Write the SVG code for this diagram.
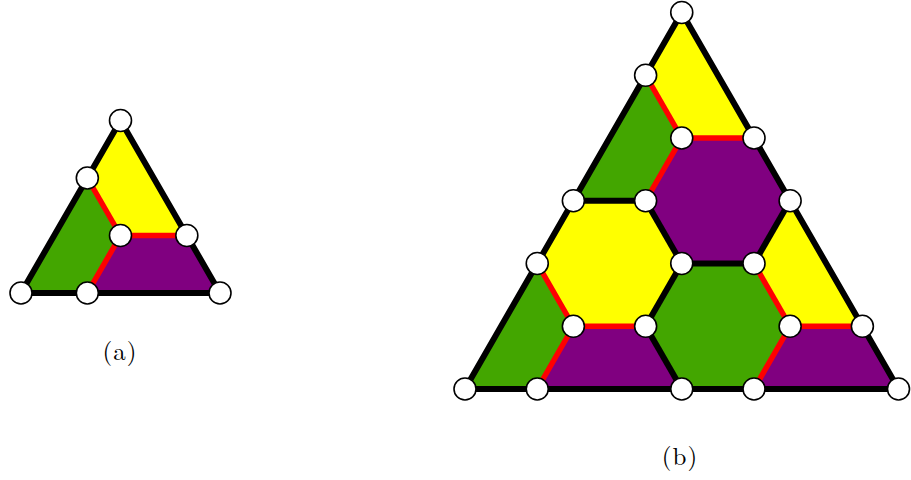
<svg xmlns="http://www.w3.org/2000/svg" width="911" height="480" viewBox="0 0 911 480">
<style>
.y{fill:#ffff00}
.g{fill:#43a600}
.p{fill:#800080}
.outer{fill:none;stroke:#000;stroke-width:6;stroke-linejoin:miter}
.bk{stroke:#000;stroke-width:6;stroke-linecap:butt}
.rd{stroke:#ff0000;stroke-width:5.5;stroke-linecap:butt}
.nd{fill:#fff;stroke:#000;stroke-width:1.6}
.lbl{font-family:"Latin Modern Roman","Liberation Serif",serif;font-size:25px;fill:#000;text-anchor:middle;letter-spacing:1px}
</style>
<rect width="911" height="480" fill="#fff"/>
<g id="faces-a">
<polygon class="y" points="120.5,120.5 186.83,235.5 120.5,235.5 87.33,178"/>
<polygon class="g" points="87.33,178 120.5,235.5 87.33,293 21,293"/>
<polygon class="p" points="120.5,235.5 186.83,235.5 220,293 87.33,293"/>
</g>
<g id="faces-b">
<polygon class="y" points="681.75,12.5 754,138 681.75,138 645.625,75.25"/>
<polygon class="g" points="645.625,75.25 681.75,138 645.625,200.75 573.375,200.75"/>
<polygon class="p" points="681.75,138 754,138 790.125,200.75 754,263.5 681.75,263.5 645.625,200.75"/>
<polygon class="y" points="573.375,200.75 645.625,200.75 681.75,263.5 645.625,326.25 573.375,326.25 537.25,263.5"/>
<polygon class="y" points="790.125,200.75 862.375,326.25 790.125,326.25 754,263.5"/>
<polygon class="g" points="681.75,263.5 754,263.5 790.125,326.25 754,389 681.75,389 645.625,326.25"/>
<polygon class="g" points="537.25,263.5 573.375,326.25 537.25,389 465,389"/>
<polygon class="p" points="573.375,326.25 645.625,326.25 681.75,389 537.25,389"/>
<polygon class="p" points="790.125,326.25 862.375,326.25 898.5,389 754,389"/>
</g>
<g id="connectors">
<polygon class="outer" points="21,293 220,293 120.5,120.5"/>
<line class="rd" x1="87.33" y1="178" x2="120.5" y2="235.5"/>
<line class="rd" x1="120.5" y1="235.5" x2="186.83" y2="235.5"/>
<line class="rd" x1="120.5" y1="235.5" x2="87.33" y2="293"/>
<polygon class="outer" points="465,389 898.5,389 681.75,12.5"/>
<line class="bk" x1="573.375" y1="200.75" x2="645.625" y2="200.75"/>
<line class="bk" x1="645.625" y1="200.75" x2="681.75" y2="263.5"/>
<line class="bk" x1="681.75" y1="263.5" x2="754" y2="263.5"/>
<line class="bk" x1="754" y1="263.5" x2="790.125" y2="200.75"/>
<line class="bk" x1="681.75" y1="263.5" x2="645.625" y2="326.25"/>
<line class="bk" x1="645.625" y1="326.25" x2="681.75" y2="389"/>
<line class="rd" x1="645.625" y1="75.25" x2="681.75" y2="138"/>
<line class="rd" x1="681.75" y1="138" x2="754" y2="138"/>
<line class="rd" x1="681.75" y1="138" x2="645.625" y2="200.75"/>
<line class="rd" x1="537.25" y1="263.5" x2="573.375" y2="326.25"/>
<line class="rd" x1="573.375" y1="326.25" x2="645.625" y2="326.25"/>
<line class="rd" x1="573.375" y1="326.25" x2="537.25" y2="389"/>
<line class="rd" x1="754" y1="263.5" x2="790.125" y2="326.25"/>
<line class="rd" x1="790.125" y1="326.25" x2="862.375" y2="326.25"/>
<line class="rd" x1="790.125" y1="326.25" x2="754" y2="389"/>
</g>
<g id="a-n1"><circle class="nd" cx="120.5" cy="120.5" r="11"/></g>
<g id="a-n2"><circle class="nd" cx="87.33" cy="178" r="11"/></g>
<g id="a-n3"><circle class="nd" cx="120.5" cy="235.5" r="11"/></g>
<g id="a-n4"><circle class="nd" cx="186.83" cy="235.5" r="11"/></g>
<g id="a-n5"><circle class="nd" cx="21" cy="293" r="11"/></g>
<g id="a-n6"><circle class="nd" cx="87.33" cy="293" r="11"/></g>
<g id="a-n7"><circle class="nd" cx="220" cy="293" r="11"/></g>
<g id="b-n1"><circle class="nd" cx="681.75" cy="12.5" r="11"/></g>
<g id="b-n2"><circle class="nd" cx="645.625" cy="75.25" r="11"/></g>
<g id="b-n3"><circle class="nd" cx="681.75" cy="138" r="11"/></g>
<g id="b-n4"><circle class="nd" cx="754" cy="138" r="11"/></g>
<g id="b-n5"><circle class="nd" cx="573.375" cy="200.75" r="11"/></g>
<g id="b-n6"><circle class="nd" cx="645.625" cy="200.75" r="11"/></g>
<g id="b-n7"><circle class="nd" cx="790.125" cy="200.75" r="11"/></g>
<g id="b-n8"><circle class="nd" cx="537.25" cy="263.5" r="11"/></g>
<g id="b-n9"><circle class="nd" cx="681.75" cy="263.5" r="11"/></g>
<g id="b-n10"><circle class="nd" cx="754" cy="263.5" r="11"/></g>
<g id="b-n11"><circle class="nd" cx="573.375" cy="326.25" r="11"/></g>
<g id="b-n12"><circle class="nd" cx="645.625" cy="326.25" r="11"/></g>
<g id="b-n13"><circle class="nd" cx="790.125" cy="326.25" r="11"/></g>
<g id="b-n14"><circle class="nd" cx="862.375" cy="326.25" r="11"/></g>
<g id="b-n15"><circle class="nd" cx="465" cy="389" r="11"/></g>
<g id="b-n16"><circle class="nd" cx="537.25" cy="389" r="11"/></g>
<g id="b-n17"><circle class="nd" cx="681.75" cy="389" r="11"/></g>
<g id="b-n18"><circle class="nd" cx="754" cy="389" r="11"/></g>
<g id="b-n19"><circle class="nd" cx="898.5" cy="389" r="11"/></g>
<text class="lbl" x="120" y="360">(a)</text>
<text class="lbl" x="680" y="465">(b)</text>
</svg>
